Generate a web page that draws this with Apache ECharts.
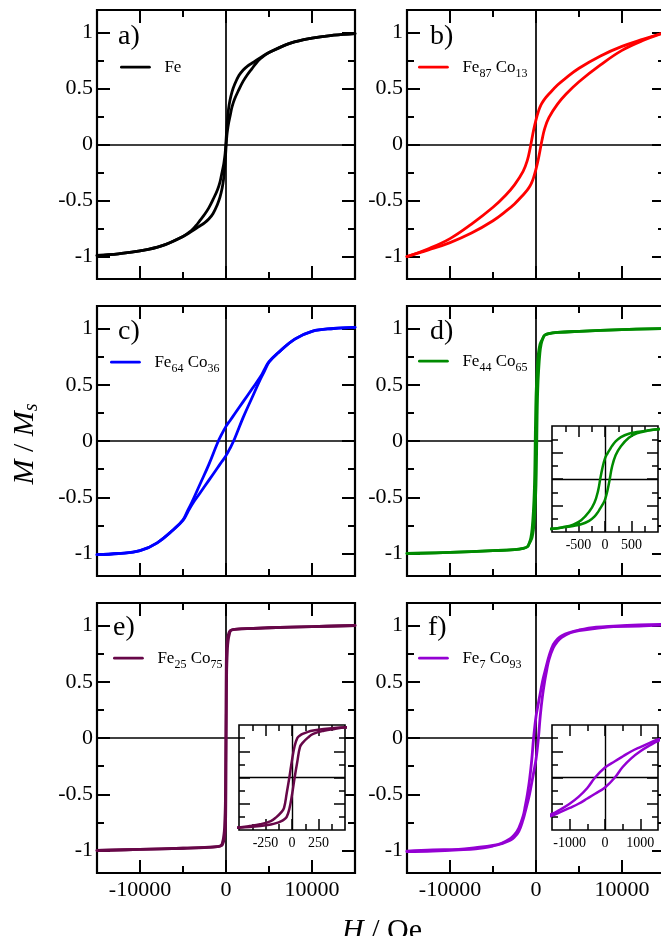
<!DOCTYPE html>
<html>
<head>
<meta charset="utf-8">
<script src="https://cdn.jsdelivr.net/npm/echarts@6/dist/echarts.min.js"></script>
<style>
  html, body { margin: 0; padding: 0; background: #fff; }
  #chart { width: 661px; height: 936px; }
</style>
</head>
<body>
<div id="chart"></div>
<script>
// Hysteresis loops M/Ms(H) of Fe–Co films: descending branch (from +H) and ascending branch (from -H).

// a) Fe
const feField = [-15000,-12500,-10000,-7500,-5000,-4000,-3500,-3000,-2500,-2000,-1500,-1000,-700,-450,-300,-200,-100,0,100,200,300,450,700,1000,1500,2000,2500,3000,3500,4000,5000,7500,10000,12500,15000];
const feDescending = [-0.99,-0.975,-0.95,-0.905,-0.82,-0.765,-0.725,-0.675,-0.625,-0.565,-0.49,-0.405,-0.335,-0.245,-0.19,-0.14,-0.08,0.03,0.15,0.25,0.32,0.39,0.47,0.535,0.615,0.665,0.70,0.725,0.75,0.775,0.82,0.905,0.95,0.975,0.99];
const feAscending = [-0.99,-0.975,-0.95,-0.905,-0.82,-0.775,-0.75,-0.725,-0.70,-0.665,-0.615,-0.535,-0.47,-0.39,-0.32,-0.25,-0.15,-0.03,0.08,0.14,0.19,0.245,0.335,0.405,0.49,0.565,0.625,0.675,0.725,0.765,0.82,0.905,0.95,0.975,0.99];

// b) Fe87Co13
const fe87Field = [-15000,-12500,-10000,-7500,-5000,-3500,-2500,-1500,-1000,-700,-500,-300,0,300,500,700,1000,1500,2500,3500,5000,7500,10000,12500,15000];
const fe87Descending = [-1.0,-0.93,-0.84,-0.71,-0.56,-0.45,-0.36,-0.24,-0.14,-0.04,0.04,0.12,0.22,0.30,0.34,0.37,0.405,0.45,0.53,0.595,0.68,0.79,0.875,0.94,1.0];
const fe87Ascending = [-1.0,-0.94,-0.875,-0.79,-0.68,-0.595,-0.53,-0.45,-0.405,-0.37,-0.34,-0.30,-0.22,-0.12,-0.04,0.04,0.14,0.24,0.36,0.45,0.56,0.71,0.84,0.93,1.0];

// c) Fe64Co36
const fe64Field = [-15000,-12500,-10000,-8000,-6000,-5000,-4500,-4000,-3000,-2000,-1000,-500,0,500,1000,2000,3000,4000,4500,5000,6000,8000,10000,12500,15000];
const fe64Descending = [-1.01,-1.0,-0.975,-0.905,-0.78,-0.70,-0.625,-0.55,-0.38,-0.21,-0.02,0.06,0.13,0.185,0.24,0.35,0.46,0.57,0.64,0.705,0.78,0.905,0.975,1.0,1.01];
const fe64Ascending = [-1.01,-1.0,-0.975,-0.905,-0.78,-0.705,-0.64,-0.57,-0.46,-0.35,-0.24,-0.185,-0.13,-0.06,0.02,0.21,0.38,0.55,0.625,0.70,0.78,0.905,0.975,1.0,1.01];

// d) Fe44Co65
const fe44Field = [-15000,-10000,-5000,-2500,-1500,-1000,-800,-600,-450,-300,-200,-130,-90,-50,0,50,90,130,200,300,450,600,800,1000,1500,2500,5000,10000,15000];
const fe44Descending = [-1.0,-0.99,-0.975,-0.965,-0.955,-0.94,-0.91,-0.86,-0.78,-0.62,-0.45,-0.22,0.0,0.20,0.39,0.49,0.555,0.62,0.71,0.79,0.855,0.885,0.915,0.94,0.955,0.965,0.975,0.99,1.0];
const fe44Ascending = [-1.0,-0.99,-0.975,-0.965,-0.955,-0.94,-0.915,-0.885,-0.855,-0.79,-0.71,-0.62,-0.555,-0.49,-0.39,-0.20,0.0,0.22,0.45,0.62,0.78,0.86,0.91,0.94,0.955,0.965,0.975,0.99,1.0];

// e) Fe25Co75
const fe25Field = [-15000,-10000,-5000,-2000,-1000,-700,-500,-400,-300,-200,-150,-100,-75,-50,-25,0,25,50,75,100,150,200,300,400,500,700,1000,2000,5000,10000,15000];
const fe25Descending = [-1.0,-0.99,-0.98,-0.97,-0.965,-0.96,-0.95,-0.925,-0.89,-0.83,-0.76,-0.66,-0.58,-0.30,0.0,0.33,0.60,0.75,0.80,0.83,0.87,0.895,0.925,0.945,0.955,0.962,0.966,0.972,0.98,0.99,1.0];
const fe25Ascending = [-1.0,-0.99,-0.98,-0.972,-0.966,-0.962,-0.955,-0.945,-0.925,-0.895,-0.87,-0.83,-0.80,-0.75,-0.60,-0.33,0.0,0.30,0.58,0.66,0.76,0.83,0.89,0.925,0.95,0.96,0.965,0.97,0.98,0.99,1.0];

// f) Fe7Co93
const fe7Field = [-15000,-12000,-9000,-7000,-5000,-4000,-3000,-2500,-2000,-1500,-1250,-1000,-750,-500,-280,0,280,500,750,1000,1250,1500,2000,2500,3000,4000,5000,7000,9000,12000,15000];
const fe7Descending = [-1.005,-0.995,-0.99,-0.975,-0.955,-0.935,-0.895,-0.86,-0.80,-0.695,-0.605,-0.50,-0.37,-0.20,0.0,0.19,0.31,0.40,0.50,0.58,0.655,0.725,0.83,0.88,0.91,0.94,0.96,0.985,0.995,1.005,1.01];
const fe7Ascending = [-1.01,-1.005,-0.995,-0.985,-0.96,-0.94,-0.91,-0.88,-0.83,-0.725,-0.655,-0.58,-0.50,-0.40,-0.31,-0.19,0.0,0.20,0.37,0.50,0.605,0.695,0.80,0.86,0.895,0.935,0.955,0.975,0.99,0.995,1.005];

// Tick positions
const fieldTicks = [-10000, 0, 10000];
const fieldMinorTicks = [-5000, 5000];
const momentTicks = [-1, -0.5, 0, 0.5, 1];
const momentMinorTicks = [-0.75, -0.25, 0.25, 0.75];
const insetMomentTicks = [-0.5, 0, 0.5];
const insetMomentMinorTicks = [-0.75, -0.25, 0.25, 0.75];
const insetDTicks = [-500, 0, 500];
const insetDMinorTicks = [-750, -250, 250, 750];
const insetETicks = [-250, 0, 250];
const insetEMinorTicks = [-375, -125, 125, 375];
const insetFTicks = [-1000, 0, 1000];
const insetFMinorTicks = [-500, 500];

const FONT = 'Liberation Serif';

const panels = [
  { tag: 'a)', name: 'Fe', label: [['Fe', '']], color: '#000000',
    field: feField, down: feDescending, up: feAscending,
    rect: [97, 10, 258, 269], xLabels: false, legendAt: [120, 70], tagAt: [118, 37] },
  { tag: 'b)', name: 'Fe87Co13', label: [['Fe', '87'], [' Co', '13']], color: '#ff0000',
    field: fe87Field, down: fe87Descending, up: fe87Ascending,
    rect: [407, 10, 258, 269], xLabels: false, legendAt: [418, 70], tagAt: [430, 37] },
  { tag: 'c)', name: 'Fe64Co36', label: [['Fe', '64'], [' Co', '36']], color: '#0000ff',
    field: fe64Field, down: fe64Descending, up: fe64Ascending,
    rect: [97, 306, 258, 270], xLabels: false, legendAt: [110, 365], tagAt: [118, 332] },
  { tag: 'd)', name: 'Fe44Co65', label: [['Fe', '44'], [' Co', '65']], color: '#008b00',
    field: fe44Field, down: fe44Descending, up: fe44Ascending,
    rect: [407, 306, 258, 270], xLabels: false, legendAt: [418, 364], tagAt: [430, 332] },
  { tag: 'e)', name: 'Fe25Co75', label: [['Fe', '25'], [' Co', '75']], color: '#670748',
    field: fe25Field, down: fe25Descending, up: fe25Ascending,
    rect: [97, 603, 258, 270], xLabels: true, legendAt: [113, 661], tagAt: [113, 628] },
  { tag: 'f)', name: 'Fe7Co93', label: [['Fe', '7'], [' Co', '93']], color: '#9400d3',
    field: fe7Field, down: fe7Descending, up: fe7Ascending,
    rect: [407, 603, 258, 270], xLabels: true, legendAt: [418, 661], tagAt: [428, 628] }
];

const insets = [
  { panel: 3, rect: [552, 426, 106, 106], xMin: -1000, xMax: 1000, xMajor: insetDTicks, xMinor: insetDMinorTicks },
  { panel: 4, rect: [239, 725, 106, 105], xMin: -500, xMax: 500, xMajor: insetETicks, xMinor: insetEMinorTicks },
  { panel: 5, rect: [552, 725, 106, 105], xMin: -1500, xMax: 1500, xMajor: insetFTicks, xMinor: insetFMinorTicks }
];

const grids = [], xAxes = [], yAxes = [], series = [], legends = [], graphics = [];

function buildFrame(rect, o) {
  const g = grids.length;
  grids.push({
    left: rect[0], top: rect[1], width: rect[2], height: rect[3],
    show: true, borderColor: '#000', borderWidth: o.border,
    backgroundColor: o.background, z: o.z, outerBoundsMode: 'none', containLabel: false
  });
  const tick = (values, len) => ({
    show: true, inside: true, length: len, customValues: values,
    lineStyle: { color: '#000', width: o.tickWidth }
  });
  const hidden = { show: false };
  const base = (pos, min, max) => ({
    type: 'value', gridIndex: g, position: pos, min: min, max: max, z: o.z + 1, silent: true,
    axisLine: { show: false, onZero: false }, splitLine: { show: false }, splitArea: { show: false }
  });
  const label = (values, margin) => ({
    show: true, customValues: values, formatter: v => String(v), margin: margin,
    fontFamily: FONT, fontSize: o.labelSize, color: '#000'
  });
  const xIndex = xAxes.length;
  xAxes.push(
    Object.assign(base('bottom', o.xMin, o.xMax), { axisTick: tick(o.xMajor, o.majorLen), axisLabel: o.xLabels ? label(o.xMajor, o.xMargin) : hidden }),
    Object.assign(base('bottom', o.xMin, o.xMax), { axisTick: tick(o.xMinor, o.minorLen), axisLabel: hidden }),
    Object.assign(base('top', o.xMin, o.xMax), { axisTick: tick(o.xMajor, o.majorLen), axisLabel: hidden }),
    Object.assign(base('top', o.xMin, o.xMax), { axisTick: tick(o.xMinor, o.minorLen), axisLabel: hidden })
  );
  const yIndex = yAxes.length;
  yAxes.push(
    Object.assign(base('left', o.yMin, o.yMax), { axisTick: tick(o.yMajor, o.majorLen), axisLabel: o.yLabels ? label(o.yMajor, o.yMargin) : hidden }),
    Object.assign(base('left', o.yMin, o.yMax), { axisTick: tick(o.yMinor, o.minorLen), axisLabel: hidden }),
    Object.assign(base('right', o.yMin, o.yMax), { axisTick: tick(o.yMajor, o.majorLen), axisLabel: hidden }),
    Object.assign(base('right', o.yMin, o.yMax), { axisTick: tick(o.yMinor, o.minorLen), axisLabel: hidden })
  );
  return { xIndex, yIndex };
}

function loopSeries(p, frame, z, width, zeroWidth) {
  const down = p.field.map((h, k) => [h, p.down[k]]);
  const up = p.field.map((h, k) => [h, p.up[k]]);
  const common = {
    type: 'line', name: p.name, xAxisIndex: frame.xIndex, yAxisIndex: frame.yIndex,
    symbol: 'none', smooth: 0.4, z: z, silent: true,
    lineStyle: { color: p.color, width: width, join: 'round', cap: 'round' }, itemStyle: { color: p.color }
  };
  return [
    Object.assign({}, common, {
      data: down,
      markLine: {
        silent: true, symbol: ['none', 'none'], z: z - 1, animation: false,
        label: { show: false }, emphasis: { disabled: true },
        lineStyle: { color: '#000', width: zeroWidth, type: 'solid' },
        data: [{ xAxis: 0 }, { yAxis: 0 }]
      }
    }),
    Object.assign({}, common, { data: up })
  ];
}

panels.forEach(p => {
  const frame = buildFrame(p.rect, {
    border: 2.2, background: 'transparent', z: 0, tickWidth: 2, majorLen: 13, minorLen: 7,
    labelSize: 22, xMin: -15000, xMax: 15000, xMajor: fieldTicks, xMinor: fieldMinorTicks,
    xLabels: p.xLabels, xMargin: 6, yMin: -1.2, yMax: 1.2, yMajor: momentTicks, yMinor: momentMinorTicks,
    yLabels: true, yMargin: 4
  });
  series.push(...loopSeries(p, frame, 4, 2.8, 1.7));

  const rich = {
    p: { fontFamily: FONT, fontSize: 17, color: '#000', padding: [0, 0, 0, 10] },
    m: { fontFamily: FONT, fontSize: 17, color: '#000' },
    s: { fontFamily: FONT, fontSize: 12, color: '#000', padding: [13, 0, 0, 0] }
  };
  const text = p.label.map((part, k) =>
    '{' + (k === 0 ? 'p' : 'm') + '|' + part[0] + '}' + (part[1] ? '{s|' + part[1] + '}' : '')).join('');
  legends.push({
    left: p.legendAt[0], top: p.legendAt[1] - 14, padding: 0, itemWidth: 28, itemHeight: 28,
    selectedMode: false, data: [p.name], formatter: () => text,
    itemStyle: { color: 'rgba(0,0,0,0)', borderColor: 'rgba(0,0,0,0)', borderWidth: 0, opacity: 0 },
    lineStyle: { width: 2.8 },
    textStyle: { fontFamily: FONT, color: '#000', rich: rich }
  });

  graphics.push({
    type: 'text', x: p.tagAt[0], y: p.tagAt[1], silent: true,
    style: { text: p.tag, fontFamily: FONT, fontSize: 28, fill: '#000', align: 'left', verticalAlign: 'middle' }
  });
});

insets.forEach(ins => {
  const p = panels[ins.panel];
  const frame = buildFrame(ins.rect, {
    border: 1.6, background: '#ffffff', z: 6, tickWidth: 1.5, majorLen: 11, minorLen: 6,
    labelSize: 14, xMin: ins.xMin, xMax: ins.xMax, xMajor: ins.xMajor, xMinor: ins.xMinor,
    xLabels: true, xMargin: 6, yMin: -1, yMax: 1, yMajor: insetMomentTicks, yMinor: insetMomentMinorTicks,
    yLabels: false, yMargin: 4
  });
  series.push(...loopSeries(p, frame, 9, 2.5, 1.4));
});

// Shared axis titles
const titleRich = {
  i: { fontFamily: FONT, fontSize: 30, fontStyle: 'italic', color: '#000' },
  n: { fontFamily: FONT, fontSize: 30, color: '#000' },
  si: { fontFamily: FONT, fontSize: 20, fontStyle: 'italic', color: '#000', padding: [14, 0, 0, 0] }
};
graphics.push({
  type: 'text', x: 25, y: 444, rotation: Math.PI / 2, silent: true,
  style: { text: '{i|M}{n| / }{i|M}{si|s}', rich: titleRich, align: 'center', verticalAlign: 'middle' }
});
graphics.push({
  type: 'text', x: 382, y: 931, silent: true,
  style: { text: '{i|H}{n| / Oe}', rich: titleRich, align: 'center', verticalAlign: 'middle' }
});

const chart = echarts.init(document.getElementById('chart'), null, { renderer: 'canvas' });
chart.setOption({
  animation: false,
  backgroundColor: '#ffffff',
  grid: grids,
  xAxis: xAxes,
  yAxis: yAxes,
  legend: legends,
  series: series,
  graphic: graphics
});
</script>
</body>
</html>
